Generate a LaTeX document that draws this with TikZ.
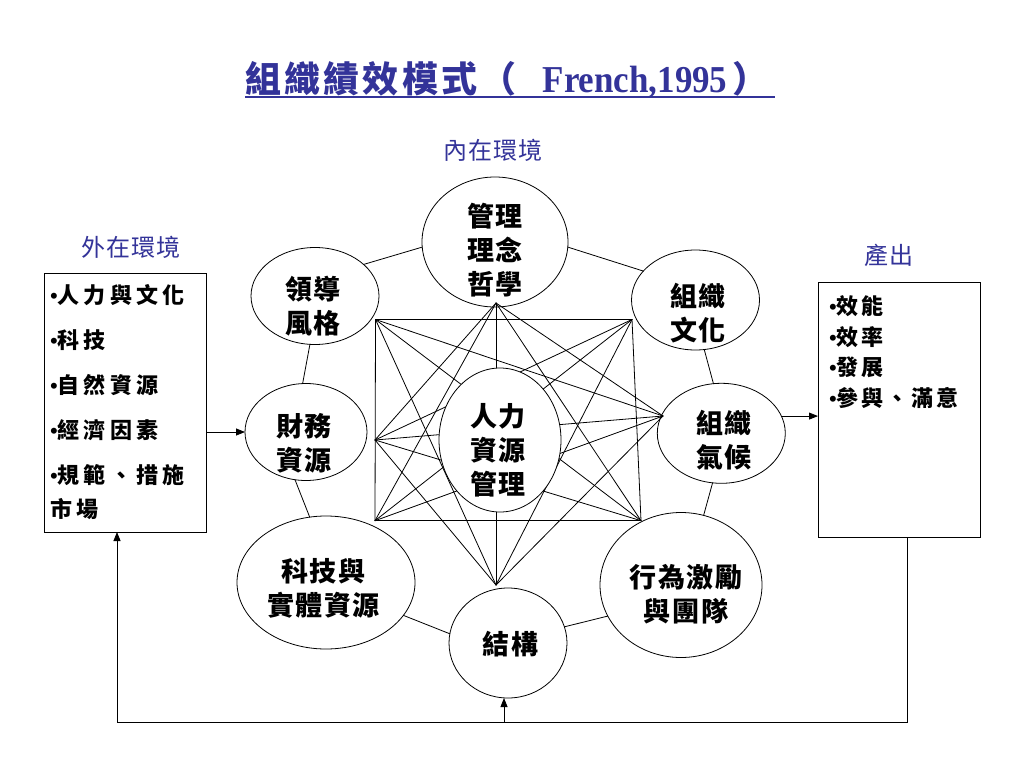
\documentclass[tikz,border=0pt]{standalone}
\usepackage{fontspec}
\setmainfont{Liberation Serif}
\newfontfamily\cjk{Noto Sans CJK TC}
\newfontfamily\titlelat{Liberation Serif}[FakeStretch=0.92]
\usetikzlibrary{shapes.geometric,arrows.meta}
\definecolor{ttl}{RGB}{51,51,153}
\tikzset{
  oval/.style={draw, ellipse, inner sep=0pt, outer sep=0pt, line width=0.8pt},
  hub/.style={oval, fill=white},
  otext/.style={align=center, inner sep=0pt,
    font=\cjk\bfseries\fontsize{27}{34}\selectfont\addfontfeatures{LetterSpace=6}},
  conn/.style={line width=0.8pt, line cap=round},
  arr/.style={line width=0.8pt, -{Triangle[length=9pt,width=7pt]}},
  boxst/.style={draw, rectangle, line width=0.8pt, inner sep=0pt, outer sep=0pt},
  lbl/.style={text=ttl, inner sep=0pt,
    font=\cjk\fontsize{24}{28}\selectfont\addfontfeatures{LetterSpace=5}},
}
\begin{document}
\begin{tikzpicture}[x=1pt,y=-1pt]
\useasboundingbox (0,0) rectangle (1024,768);
\fill[white] (0,0) rectangle (1024,768);

% title
\node[anchor=base west, inner sep=0pt, text=ttl,
  font=\cjk\bfseries\fontsize{36}{40}\selectfont\addfontfeatures{LetterSpace=9}]
  (title) at (245,92) {組織績效模式（\hspace{26pt}{\titlelat\bfseries\fontsize{38}{40}\selectfont French,1995}\hspace{5pt}）};
\coordinate (ul1) at (245,97);
\coordinate (ul2) at (775,97);
\draw[ttl, line width=1.7pt] (ul1) -- (ul2);

% labels
\node[lbl] (innerlbl) at (493,150) {內在環境};
\node[lbl] (outerlbl) at (131,247.5) {外在環境};
\node[lbl] (prodlbl) at (889,255) {產出};

% star vertices
\coordinate (s0) at (496,303);
\coordinate (s1) at (632,319.5);
\coordinate (s2) at (663,416);
\coordinate (s3) at (641,520.7);
\coordinate (s4) at (496,585);
\coordinate (s5) at (375,520.7);
\coordinate (s6) at (375,440);
\coordinate (s7) at (375.5,319.5);
\foreach \a/\b in {0/2,0/3,0/4,0/5,0/6,1/3,1/4,1/5,1/6,1/7,2/4,2/5,2/6,2/7,3/5,3/6,3/7,4/6,4/7,5/7}
  \draw[conn] (s\a) -- (s\b);

% ellipses
\node[oval, minimum width=146pt, minimum height=130pt] (gl) at (495,242) {};
\node[oval, minimum width=128pt, minimum height=97pt] (ld) at (315,296) {};
\node[oval, minimum width=128pt, minimum height=100pt] (wh) at (695.5,300) {};
\node[oval, minimum width=128pt, minimum height=100pt] (qh) at (721.3,433.3) {};
\node[oval, minimum width=162pt, minimum height=145pt] (xw) at (681,585) {};
\node[oval, minimum width=118pt, minimum height=110pt] (jg) at (508,643) {};
\node[oval, minimum width=178pt, minimum height=133pt] (kj) at (326,582.5) {};
\node[oval, minimum width=122pt, minimum height=97pt] (cw) at (306,432) {};
\node[hub, minimum width=122pt, minimum height=144pt] (hr) at (500,440) {};

% ellipse texts
\node[otext] (glt) at (495,250) {管理\\理念\\哲學};
\node[otext] (ldt) at (313,306) {領導\\風格};
\node[otext] (cwt) at (304,443) {財務\\資源};
\node[otext] (wht) at (698,313) {組織\\文化};
\node[otext] (qht) at (724,440) {組織\\氣候};
\node[otext] (kjt) at (323.5,588) {科技與\\實體資源};
\node[otext] (jgt) at (510.7,644) {結構};
\node[otext] (xwt) at (686,594.5) {行為激勵\\與團隊};
\node[otext] (hrt) at (498,450.5) {人力\\資源\\管理};

% ring
\draw[conn] (ld.33) -- (gl.184);
\draw[conn] (gl.356) -- (wh.151);
\draw[conn] (wh.280) -- (qh.99);
\draw[conn] (qh.260) -- (xw.72);
\draw[conn] (xw.203) -- (jg.16);
\draw[conn] (jg.171) -- (kj.337);
\draw[conn] (kj.104) -- (cw.257);
\draw[conn] (cw.94) -- (ld.264);

% boxes
\node[boxst, minimum width=162pt, minimum height=259pt, anchor=north west,
  font=\cjk\bfseries\fontsize{22}{34}\selectfont\addfontfeatures{LetterSpace=19}]
  (inbox) at (44,273) {\begin{minipage}{150pt}\raggedright
  {\rmfamily •}人力與文化\\[11pt]
  {\rmfamily •}科技\\[11pt]
  {\rmfamily •}自然資源\\[11pt]
  {\rmfamily •}經濟因素\\[11pt]
  {\rmfamily •}規範、措施\\
  市場\end{minipage}};
\node[boxst, minimum width=162pt, minimum height=255pt, anchor=north west,
  font=\cjk\bfseries\fontsize{22}{30.5}\selectfont\addfontfeatures{LetterSpace=13}]
  (outbox) at (818,282) {\parbox[c][227pt][t]{140pt}{\raggedright
  {\rmfamily •}效能\\
  {\rmfamily •}效率\\
  {\rmfamily •}發展\\
  {\rmfamily •}參與、滿意}};

% arrows
\draw[arr] (inbox.east |- cw.west) -- (cw.west);
\draw[arr] (qh.16) -- (qh.16 -| outbox.west);
\coordinate (fbr) at (907,722);
\coordinate (fbl) at (117,722);
\coordinate (fbm) at (504,722);
\draw[arr] (outbox.south -| fbr) -- (fbr) -- (fbl) -- (fbl |- inbox.south);
\draw[arr] (fbm) -- (fbm |- jg.south);
\end{tikzpicture}
\end{document}
